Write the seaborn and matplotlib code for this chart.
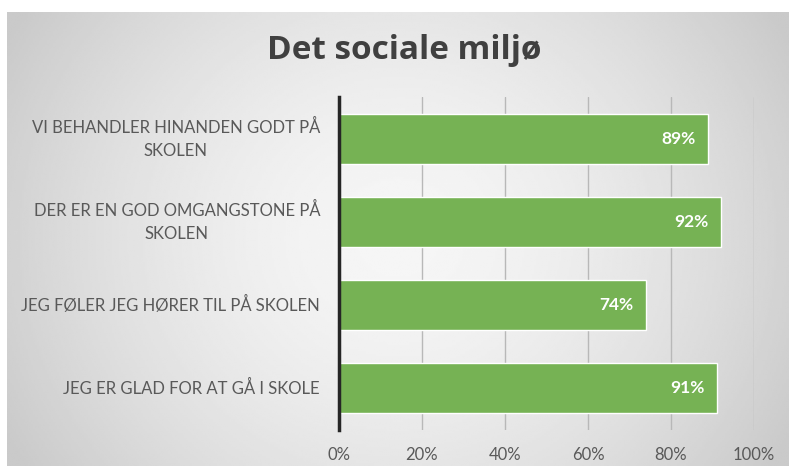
import numpy as np
import pandas as pd
import matplotlib
matplotlib.use("Agg")
import matplotlib.pyplot as plt
import seaborn as sns

categories = [
    "VI BEHANDLER HINANDEN GODT PÅ\nSKOLEN",
    "DER ER EN GOD OMGANGSTONE PÅ\nSKOLEN",
    "JEG FØLER JEG HØRER TIL PÅ SKOLEN",
    "JEG ER GLAD FOR AT GÅ I SKOLE",
]
values = [89, 92, 74, 91]
tick_values = [0, 20, 40, 60, 80, 100]
tick_labels = ["0%", "20%", "40%", "60%", "80%", "100%"]
title = "Det sociale miljø"

sns.set_theme(style="white")
plt.rcParams["font.family"] = ["Lato", "DejaVu Sans"]

W, H = 789, 466
fig = plt.figure(figsize=(W / 100, H / 100), dpi=100)
fig.patch.set_facecolor("white")

# background radial gradient panel
bg = fig.add_axes([7 / W, 0, 1 - 7 / W, (H - 12) / H])
yy, xx = np.mgrid[-1:1:200j, -1:1:400j]
r = np.sqrt((xx / 1.0) ** 2 + (yy / 1.6) ** 2)
r = np.clip(r, 0, 1.15)
light, dark = 0.965, 0.79
img = light - (light - dark) * (r / 1.15) ** 1.6
bg.imshow(img, cmap="gray", vmin=0, vmax=1, aspect="auto",
          extent=[0, 1, 0, 1], interpolation="bilinear")
bg.set_axis_off()

ax = fig.add_axes([339 / W, 1 - 430 / H, (754 - 339) / W, (430 - 97) / H])
ax.patch.set_alpha(0)

df = pd.DataFrame({"cat": categories, "val": values})
sns.barplot(data=df, x="val", y="cat", orient="h", color="#76b254",
            saturation=1, width=0.6, ax=ax, zorder=3)

ax.set_xlim(0, 100)
ax.set_ylim(3.5, -0.5)
ax.set_xticks(tick_values)
ax.set_xticklabels(tick_labels)
ax.set_yticks(range(len(categories)))
ax.set_yticklabels([""] * len(categories))
ax.set_xlabel("")
ax.set_ylabel("")
ax.xaxis.grid(True, color="#b8b8b8", linewidth=1.0, zorder=0)
ax.set_axisbelow(True)
for s in ["top", "right", "bottom"]:
    ax.spines[s].set_visible(False)
ax.spines["left"].set_color("#262626")
ax.spines["left"].set_linewidth(2.5)
ax.spines["left"].set_zorder(5)
ax.tick_params(axis="x", length=0, pad=12, labelsize=12, labelcolor="#595959")
ax.tick_params(axis="y", length=0)

# category labels: right-aligned block, lines centred
for i, cat in enumerate(categories):
    ax.annotate(cat, xy=(0, i), xycoords=("axes fraction", "data"),
                xytext=(-19, 0), textcoords="offset pixels",
                ha="right", va="center", multialignment="center",
                fontsize=12, color="#595959", linespacing=1.55,
                annotation_clip=False)

for cont in ax.containers:
    ax.bar_label(cont, labels=[f"{v}%" for v in values], padding=-9,
                 label_type="edge", color="white", fontsize=12.5,
                 fontweight="bold", zorder=6)
for t in ax.texts:
    if t.get_text().endswith("%"):
        t.set_horizontalalignment("right")

fig.text(404 / W, 1 - 59 / H, title, ha="center", va="baseline",
         fontsize=24, fontweight="bold", color="#404040",
         family=["Open Sans", "DejaVu Sans"])

fig.savefig("out.png", dpi=100)
